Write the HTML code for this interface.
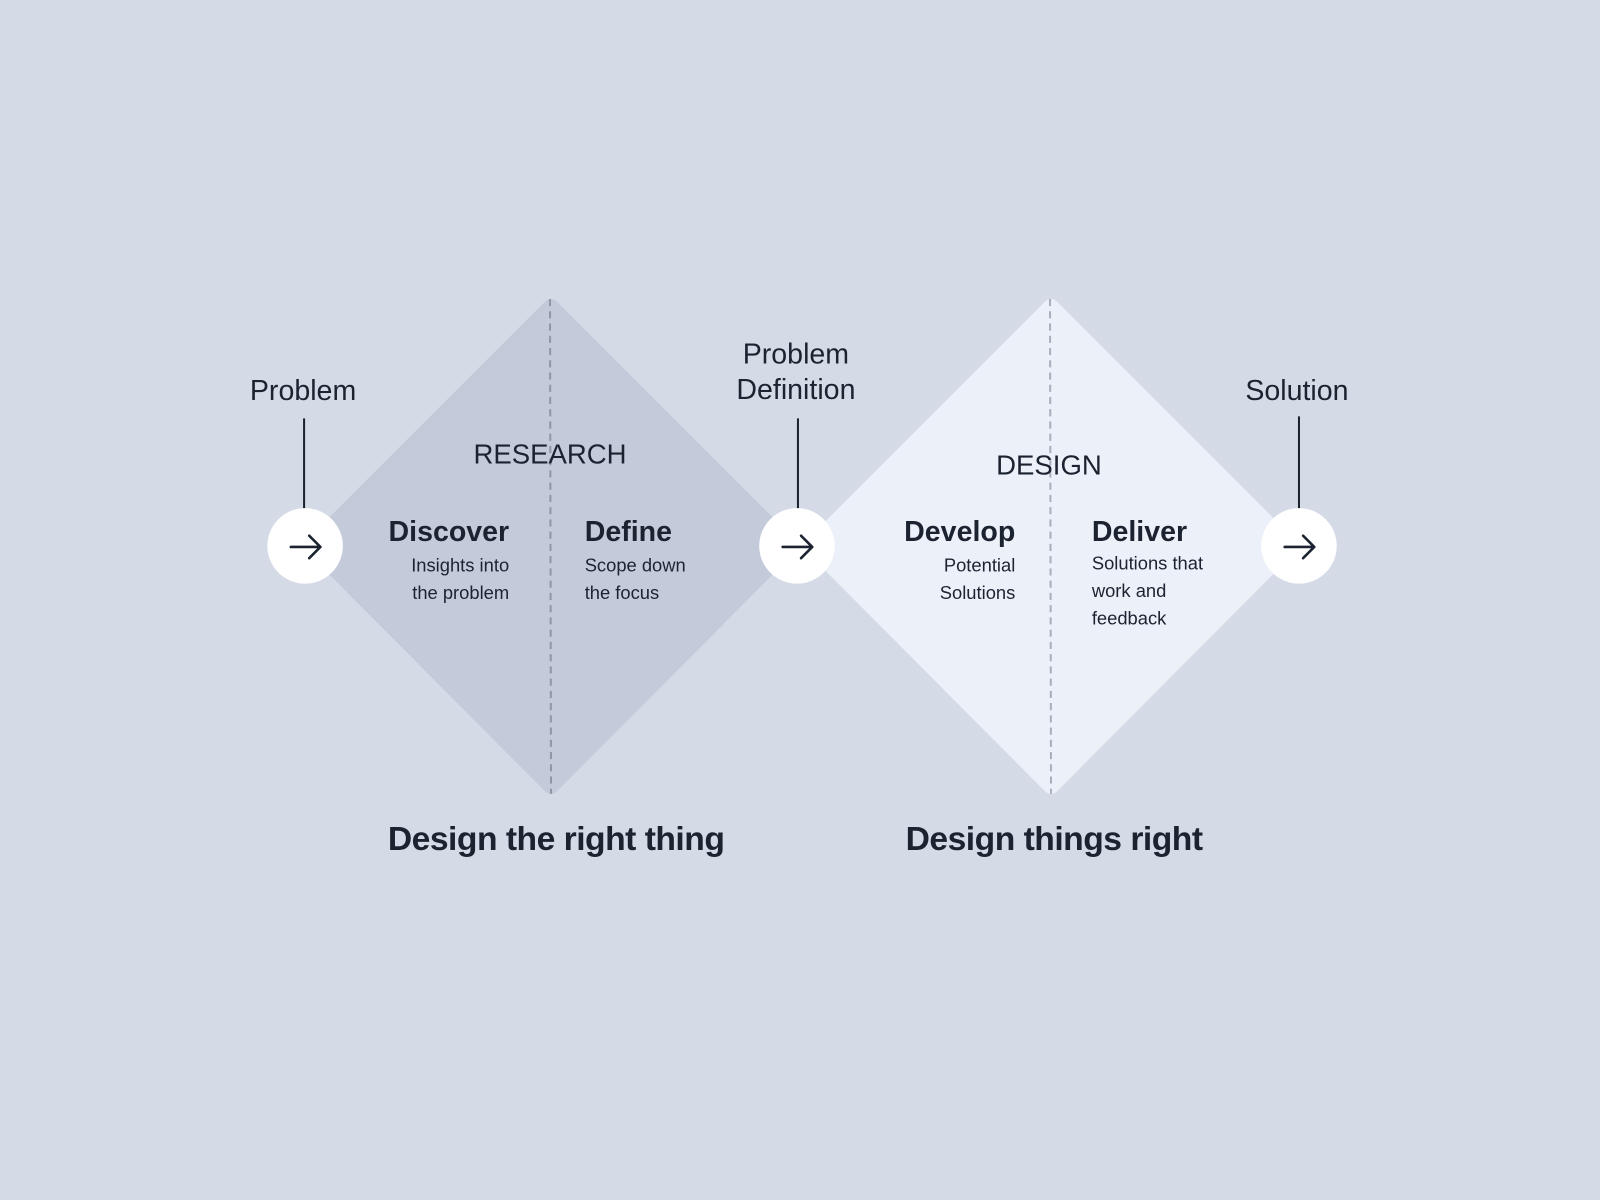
<!DOCTYPE html>
<html><head><meta charset="utf-8"><style>html,body{margin:0;padding:0;background:#d5dbe6}svg{display:block}text{font-family:"Liberation Sans",sans-serif;fill:#1c2330}</style></head>
<body>
<svg width="1600" height="1200" viewBox="0 0 1568 1176" xmlns="http://www.w3.org/2000/svg">
<rect width="1568" height="1176" fill="#d5dbe6"/>
<path d="M540,301 L774,535 L540,770 L306,535 Z" fill="#c3cad9" stroke="#c3cad9" stroke-width="16" stroke-linejoin="round"/>
<path d="M1030,301 L1264,535 L1030,770 L796,535 Z" fill="#ecf0f9" stroke="#ecf0f9" stroke-width="16" stroke-linejoin="round"/>
<line x1="539" y1="293" x2="540" y2="778" stroke="#9097a6" stroke-width="2" stroke-dasharray="7,5"/>
<line x1="1029" y1="293" x2="1030" y2="778" stroke="#a9afbd" stroke-width="2" stroke-dasharray="7,5"/>
<g stroke="#1c2330" stroke-width="2">
<line x1="298" y1="410" x2="298" y2="499"/>
<line x1="782" y1="410" x2="782" y2="499"/>
<line x1="1273" y1="408" x2="1273" y2="499"/>
</g>
<g fill="#fff"><circle cx="299" cy="535" r="37"/><circle cx="781" cy="535" r="37"/><circle cx="1273" cy="535" r="37"/></g>
<g stroke="#1c2330" stroke-width="2.5" fill="none" stroke-linecap="round" stroke-linejoin="round">
<path d="M285,536 H314 M303,525 L314,536 L303,547"/>
<path d="M767,536 H796 M785,525 L796,536 L785,547"/>
<path d="M1259,536 H1288 M1277,525 L1288,536 L1277,547"/>
</g>
<g font-size="28" text-anchor="middle">
<text x="297" y="392">Problem</text>
<text x="780" y="356">Problem</text>
<text x="780" y="391">Definition</text>
<text x="1271" y="392">Solution</text>
<text x="539" y="454" font-size="27">RESEARCH</text>
<text x="1028" y="465" font-size="27">DESIGN</text>
</g>
<g font-size="28" font-weight="bold">
<text x="499" y="530" text-anchor="end">Discover</text>
<text x="573" y="530">Define</text>
<text x="995" y="530" text-anchor="end">Develop</text>
<text x="1070" y="530">Deliver</text>
</g>
<g font-size="18" fill="#1c2330">
<text x="499" y="560" text-anchor="end">Insights into</text>
<text x="499" y="587" text-anchor="end">the problem</text>
<text x="573" y="560">Scope down</text>
<text x="573" y="587">the focus</text>
<text x="995" y="560" text-anchor="end">Potential</text>
<text x="995" y="587" text-anchor="end">Solutions</text>
<text x="1070" y="558">Solutions that</text>
<text x="1070" y="585">work and</text>
<text x="1070" y="612">feedback</text>
</g>
<g font-size="33" font-weight="bold" text-anchor="middle" letter-spacing="-0.5">
<text x="545" y="833">Design the right thing</text>
<text x="1033" y="833">Design things right</text>
</g>
</svg>
</body></html>
